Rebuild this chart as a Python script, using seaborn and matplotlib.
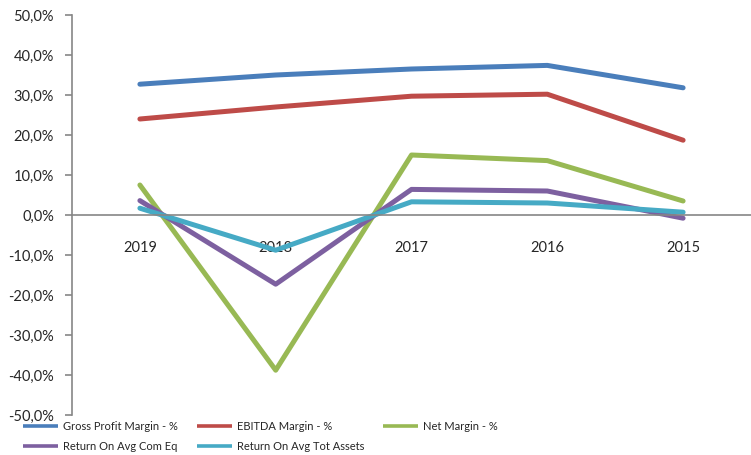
import pandas as pd
import matplotlib.pyplot as plt
import matplotlib.ticker as mticker
from matplotlib.lines import Line2D
import seaborn as sns

# --- data ---
years = ['2019', '2018', '2017', '2016', '2015']
gross_margin = [32.7, 35.0, 36.5, 37.4, 31.8]
ebitda_margin = [24.0, 27.0, 29.7, 30.2, 18.7]
net_margin = [7.5, -38.8, 15.0, 13.6, 3.5]
roe = [3.6, -17.3, 6.4, 6.0, -0.8]
roa = [1.7, -8.8, 3.3, 3.0, 0.7]

series_names = ['Gross Profit Margin - %', 'EBITDA Margin - %', 'Net Margin - %',
                'Return On Avg Com Eq', 'Return On Avg Tot Assets']
colors = ['#4a7ebb', '#be4b48', '#98b954', '#7d60a0', '#46aac5']

rows = []
for name, vals in zip(series_names, [gross_margin, ebitda_margin, net_margin, roe, roa]):
    for yr, v in zip(years, vals):
        rows.append({'Year': yr, 'Value': v, 'Series': name})
df = pd.DataFrame(rows)

sns.set_style('white')
plt.rcParams['font.family'] = ['Lato', 'DejaVu Sans']

fig = plt.figure(figsize=(7.51, 4.55), dpi=100)
ax = fig.add_axes([72 / 751, 40 / 455, 1 - 72 / 751, 400 / 455])

sns.lineplot(data=df, x='Year', y='Value', hue='Series', palette=colors,
             hue_order=series_names, sort=False, linewidth=3.6, ax=ax, legend=False)

ax.set_xlim(-0.5, 4.5)
ax.set_ylim(-50, 50)
ax.yaxis.set_major_locator(mticker.MultipleLocator(10))
ax.yaxis.set_major_formatter(mticker.FuncFormatter(lambda v, p: f'{v:.1f}%'.replace('.', ',')))

# x axis sits on zero, labels under the line, ticks between categories
ax.spines['top'].set_visible(False)
ax.spines['right'].set_visible(False)
ax.spines['bottom'].set_position(('data', 0))
for s in ['left', 'bottom']:
    ax.spines[s].set_color('#868686')
    ax.spines[s].set_linewidth(1.2)
ax.set_xticks(range(len(years)))
ax.set_xticklabels(years)
ax.set_xticks([0.5, 1.5, 2.5, 3.5], minor=True)
ax.tick_params(axis='x', which='major', length=0, pad=19, labelsize=10.5)
ax.tick_params(axis='x', which='minor', length=5, color='#868686', direction='out', width=1.2)
ax.tick_params(axis='y', length=5, color='#868686', direction='out', width=1.2, labelsize=10.5, pad=8)
ax.tick_params(axis='both', left=True, bottom=True)
ax.set_xlabel('')
ax.set_ylabel('')

# legend: row-major order like the original (matplotlib fills columns first)
handles = {n: Line2D([], [], color=c, linewidth=2.6, solid_capstyle='butt')
           for n, c in zip(series_names, colors)}
order = [0, 3, 1, 4, 2]
fig.legend([handles[series_names[i]] for i in order], [series_names[i] for i in order],
           ncol=3, loc='lower left', bbox_to_anchor=(13 / 751, -7 / 455),
           frameon=False, fontsize=8, handlelength=3.15, handletextpad=0.45,
           columnspacing=1.7, labelspacing=0.85)

fig.savefig('out.png', dpi=100)
